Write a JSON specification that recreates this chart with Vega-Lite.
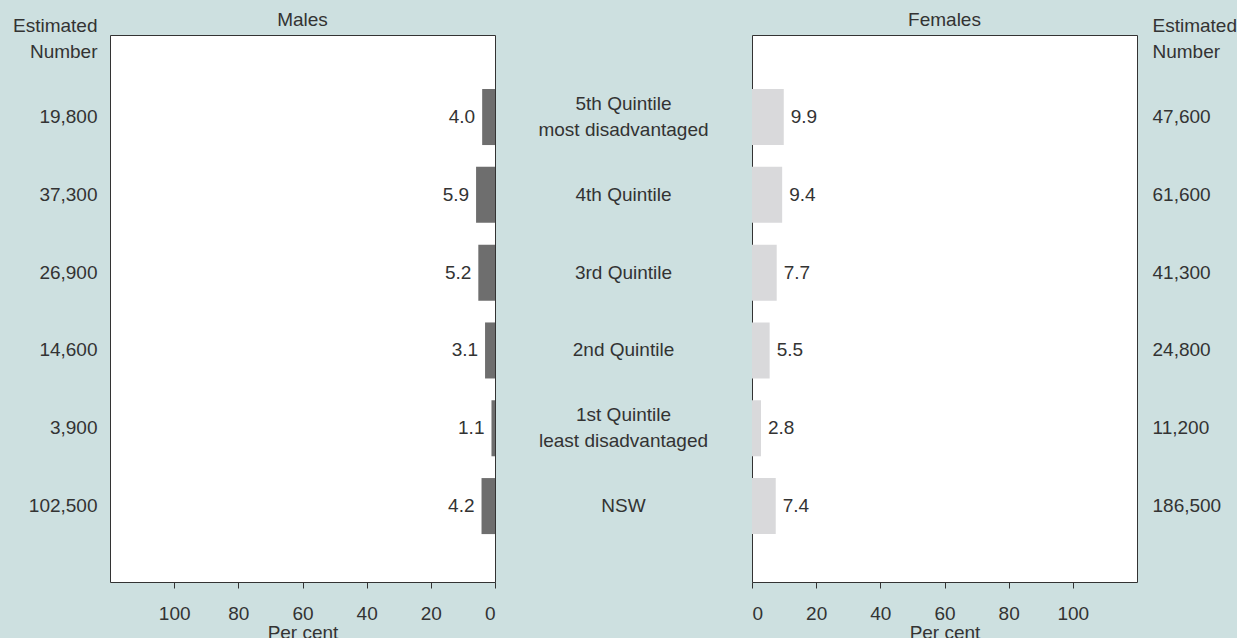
{
  "$schema": "https://vega.github.io/schema/vega-lite/v6.json",
  "background": "#cde0e0",
  "padding": {"left": 12, "top": 10, "right": 0, "bottom": 0},
  "config": {
    "font": "Liberation Sans",
    "view": {"fill": "white", "stroke": "#333333", "strokeWidth": 1},
    "text": {"fontSize": 19, "color": "#333333", "lineBreak": "\n", "lineHeight": 26},
    "title": {"fontSize": 19, "fontWeight": "normal", "color": "#333333", "offset": -14},
    "axis": {"labelFontSize": 19, "titleFontSize": 19, "titleFontWeight": "normal", "labelColor": "#333333", "titleColor": "#333333", "tickColor": "#333333", "grid": false, "domain": false, "titleLineHeight": 26}
  },
  "data": {"values": [
    {"order": 1, "cat": "5th Quintile\nmost disadvantaged", "lines": 2, "maleNum": "19,800", "male": 4.0, "femaleNum": "47,600", "female": 9.9},
    {"order": 2, "cat": "4th Quintile", "lines": 1, "maleNum": "37,300", "male": 5.9, "femaleNum": "61,600", "female": 9.4},
    {"order": 3, "cat": "3rd Quintile", "lines": 1, "maleNum": "26,900", "male": 5.2, "femaleNum": "41,300", "female": 7.7},
    {"order": 4, "cat": "2nd Quintile", "lines": 1, "maleNum": "14,600", "male": 3.1, "femaleNum": "24,800", "female": 5.5},
    {"order": 5, "cat": "1st Quintile\nleast disadvantaged", "lines": 2, "maleNum": "3,900", "male": 1.1, "femaleNum": "11,200", "female": 2.8},
    {"order": 6, "cat": "NSW", "lines": 1, "maleNum": "102,500", "male": 4.2, "femaleNum": "186,500", "female": 7.4}
  ]},
  "spacing": 0,
  "bounds": "flush",
  "hconcat": [
    {
      "width": 385,
      "height": 547,
      "title": "Males",
      "encoding": {
        "y": {
          "field": "maleNum", "type": "nominal",
          "sort": ["19,800", "37,300", "26,900", "14,600", "3,900", "102,500"],
          "scale": {"type": "band", "paddingInner": 0.28, "paddingOuter": 0.655, "align": 0.53},
          "axis": {"title": ["Estimated", "Number"], "titleAngle": 0, "titleAlign": "right", "titleBaseline": "top", "titleX": -13, "titleY": -19, "ticks": false, "labelPadding": 13}
        }
      },
      "layer": [
        {
          "mark": {"type": "bar", "color": "#6e6e6e"},
          "encoding": {
            "x": {
              "field": "male", "type": "quantitative",
              "scale": {"domain": [0, 120], "reverse": true, "nice": false, "zero": true},
              "axis": {"values": [0, 20, 40, 60, 80, 100], "title": "Per cent", "tickSize": 6, "labelPadding": 16, "titlePadding": 0}
            }
          }
        },
        {
          "mark": {"type": "text", "align": "right", "baseline": "middle", "dx": -7},
          "encoding": {
            "x": {"field": "male", "type": "quantitative"},
            "text": {"field": "male", "type": "quantitative", "format": ".1f"}
          }
        }
      ]
    },
    {
      "width": 257,
      "height": 547,
      "view": {"fill": null, "stroke": null},
      "encoding": {
        "y": {
          "field": "order", "type": "ordinal",
          "scale": {"type": "band", "paddingInner": 0.28, "paddingOuter": 0.655, "align": 0.53},
          "axis": null
        },
        "text": {"field": "cat", "type": "nominal"}
      },
      "layer": [
        {
          "transform": [{"filter": "datum.lines == 1"}],
          "mark": {"type": "text", "align": "center", "baseline": "middle"}
        },
        {
          "transform": [{"filter": "datum.lines == 2"}],
          "mark": {"type": "text", "align": "center", "baseline": "middle", "dy": -13}
        }
      ]
    },
    {
      "width": 385,
      "height": 547,
      "title": "Females",
      "encoding": {
        "y": {
          "field": "femaleNum", "type": "nominal",
          "sort": ["47,600", "61,600", "41,300", "24,800", "11,200", "186,500"],
          "scale": {"type": "band", "paddingInner": 0.28, "paddingOuter": 0.655, "align": 0.53},
          "axis": {"orient": "right", "title": ["Estimated", "Number"], "titleAngle": 0, "titleAlign": "left", "titleBaseline": "top", "titleX": 15, "titleY": -19, "ticks": false, "labelPadding": 15}
        }
      },
      "layer": [
        {
          "mark": {"type": "bar", "color": "#d9d9db"},
          "encoding": {
            "x": {
              "field": "female", "type": "quantitative",
              "scale": {"domain": [0, 120], "nice": false, "zero": true},
              "axis": {"values": [0, 20, 40, 60, 80, 100], "title": "Per cent", "tickSize": 6, "labelPadding": 16, "titlePadding": 0}
            }
          }
        },
        {
          "mark": {"type": "text", "align": "left", "baseline": "middle", "dx": 7},
          "encoding": {
            "x": {"field": "female", "type": "quantitative"},
            "text": {"field": "female", "type": "quantitative", "format": ".1f"}
          }
        }
      ]
    }
  ]
}
